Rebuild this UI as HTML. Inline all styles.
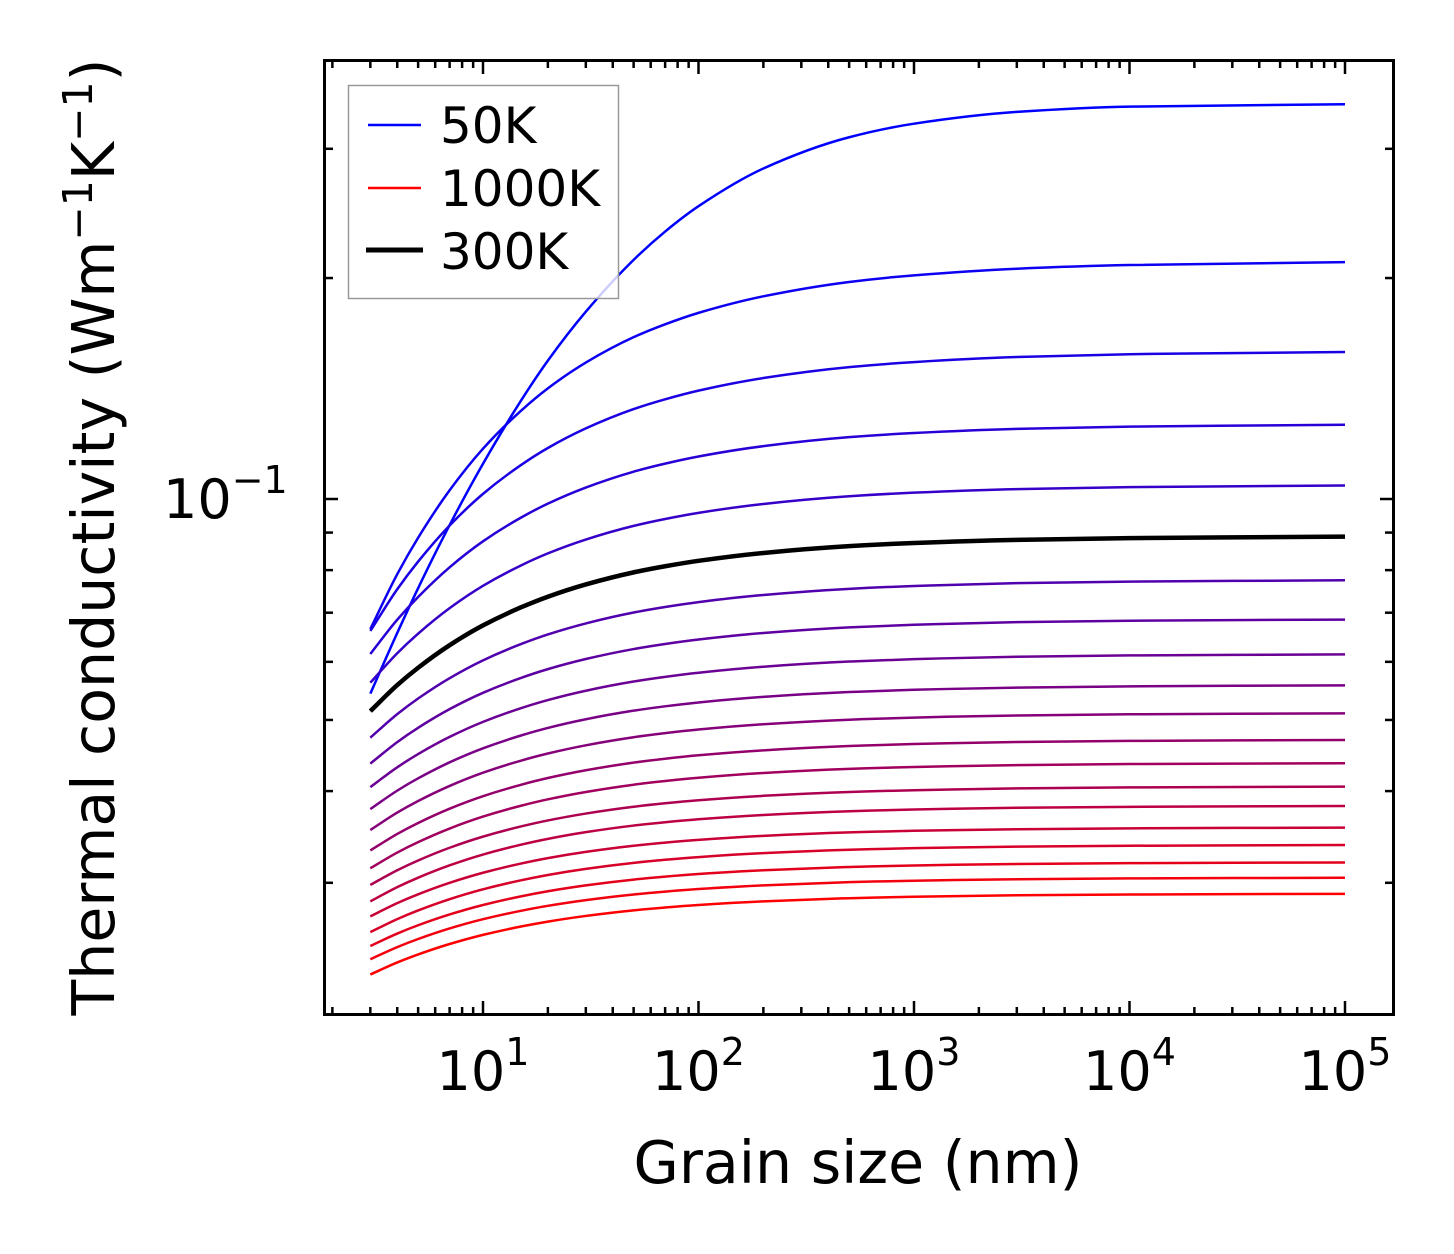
<!DOCTYPE html>
<html><head><meta charset="utf-8"><style>
html,body{margin:0;padding:0;background:#fff;}
svg{display:block;font-family:"DejaVu Sans","Liberation Sans",sans-serif;}
</style></head><body>
<svg id="chart" width="1454" height="1254" viewBox="0 0 1454 1254" xmlns="http://www.w3.org/2000/svg">
<rect x="0" y="0" width="1454" height="1254" fill="#fff"/>
<g id="curves"></g>
<g id="ticks"></g>
<rect x="324.5" y="60.5" width="1069" height="954" fill="none" stroke="#000" stroke-width="3"/>
<g>
<rect x="348.5" y="85.5" width="270" height="213" fill="rgba(255,255,255,0.8)" stroke="#999" stroke-width="1.5"/>
<line x1="368" y1="125" x2="421" y2="125" stroke="#0000ff" stroke-width="2.5"/>
<text x="440" y="143" font-size="50">50K</text>
<line x1="368" y1="188" x2="421" y2="188" stroke="#ff0000" stroke-width="2.5"/>
<text x="440" y="206" font-size="50">1000K</text>
<line x1="366" y1="250" x2="423" y2="250" stroke="#000" stroke-width="5"/>
<text x="440" y="269" font-size="50">300K</text>
</g>
<text x="858" y="1183" font-size="58.5" text-anchor="middle">Grain size (nm)</text>
<text transform="translate(114,537) rotate(-90)" font-size="58.5" text-anchor="middle">Thermal conductivity (Wm<tspan dy="-22" font-size="41">−1</tspan><tspan dy="22">K</tspan><tspan dy="-22" font-size="41">−1</tspan><tspan dy="22">)</tspan></text>
</svg>
<script>
// Data
const temperatures = [50,100,150,200,250,300,350,400,450,500,550,600,650,700,750,800,850,900,950,1000];
const kappaAt3nm = [0.0543,0.0665,0.0661,0.0615,0.0562,0.0514,0.0473,0.0436,0.0405,0.0378,0.0354,0.0332,0.0314,0.0298,0.0283,0.0270,0.0257,0.0246,0.0236,0.0225];
const kappaBulk = [0.345,0.211,0.159,0.1265,0.1045,0.0890,0.0776,0.0686,0.0615,0.0558,0.0511,0.0470,0.0437,0.0406,0.0382,0.0357,0.0338,0.0320,0.0305,0.0290];
const grainSizes = [3,4,5,7,10,15,20,30,50,70,100,200,500,1000,3000,10000,100000];
const riseFraction = [0,0.149,0.248,0.377,0.49,0.593,0.654,0.724,0.793,0.828,0.859,0.904,0.943,0.961,0.979,0.989,0.997];
const riseFraction50K = [0,0.103,0.179,0.286,0.39,0.497,0.565,0.648,0.736,0.784,0.827,0.891,0.944,0.967,0.987,0.996,1];
const xTickLabels = ["1","2","3","4","5"];
const yMinorTicks = [0.03,0.04,0.05,0.06,0.07,0.08,0.09,0.2,0.3];
const highlightTemp = 300;

// Axes
const X0=483, XD=215.5, Y0=499, YD=734;
const xS = v => X0 + XD*(Math.log10(v)-1);
const yS = v => Y0 - YD*(Math.log10(v)+1);
const NS="http://www.w3.org/2000/svg";
const curves=document.getElementById('curves'), ticks=document.getElementById('ticks');

function monoPath(xs, ys){
  const n=xs.length, d=[], m=new Array(n);
  for(let i=0;i<n-1;i++) d.push((ys[i+1]-ys[i])/(xs[i+1]-xs[i]));
  m[0]=d[0]; m[n-1]=d[n-2];
  for(let i=1;i<n-1;i++){
    if(d[i-1]*d[i]<=0) m[i]=0;
    else { const w1=2*(xs[i+1]-xs[i])+(xs[i]-xs[i-1]), w2=(xs[i+1]-xs[i])+2*(xs[i]-xs[i-1]); m[i]=(w1+w2)/(w1/d[i-1]+w2/d[i]); }
  }
  let s=`M${xs[0].toFixed(2)},${ys[0].toFixed(2)}`;
  for(let i=0;i<n-1;i++){
    const h=xs[i+1]-xs[i];
    s+=`C${(xs[i]+h/3).toFixed(2)},${(ys[i]+m[i]*h/3).toFixed(2)} ${(xs[i+1]-h/3).toFixed(2)},${(ys[i+1]-m[i+1]*h/3).toFixed(2)} ${xs[i+1].toFixed(2)},${ys[i+1].toFixed(2)}`;
  }
  return s;
}
let hlPath=null;
temperatures.forEach((T,i)=>{
  const prof = T===50 ? riseFraction50K : riseFraction;
  const a=Math.log10(kappaAt3nm[i]), b=Math.log10(kappaBulk[i]);
  const xs=grainSizes.map(g=>xS(g));
  const ys=grainSizes.map((g,j)=>yS(Math.pow(10,a+(b-a)*prof[j])));
  const d=monoPath(xs,ys);
  const t=(T-50)/950;
  const p=document.createElementNS(NS,'path');
  p.setAttribute('d',d);
  p.setAttribute('fill','none');
  p.setAttribute('stroke',`rgb(${Math.round(255*t)},0,${Math.round(255*(1-t))})`);
  p.setAttribute('stroke-width','2.5');
  
  
  curves.appendChild(p);
  if(T===highlightTemp){
    const h=document.createElementNS(NS,'path');
    h.setAttribute('d',d);
    h.setAttribute('fill','none');
    h.setAttribute('stroke','#000');
    h.setAttribute('stroke-width','4.5');
    
    
    hlPath=h;
  }
});
if(hlPath) curves.appendChild(hlPath);

function tick(x1,y1,x2,y2,name){
  const l=document.createElementNS(NS,'line');
  l.setAttribute('x1',x1);l.setAttribute('y1',y1);l.setAttribute('x2',x2);l.setAttribute('y2',y2);
  l.setAttribute('stroke','#000');l.setAttribute('stroke-width','2.5');
  
  
  ticks.appendChild(l);
}
const B=1015, T0=60, L=324, R=1394;
for(let e=0;e<=5;e++){
  for(let m=1;m<=9;m++){
    const v=m*Math.pow(10,e); const x=xS(v);
    if(x<L+2||x>R-2) continue;
    const len = m===1?14:8;
    tick(x,B,x,B-len,'x-tick');
    tick(x,T0,x,T0+len,'x-tick-top');
  }
}
xTickLabels.forEach(ex=>{
  const x=xS(Math.pow(10,+ex));
  const t=document.createElementNS(NS,'text');
  t.setAttribute('x',x);t.setAttribute('y',1090);t.setAttribute('font-size','54');t.setAttribute('text-anchor','middle');
  t.innerHTML=`10<tspan dy="-25" font-size="38">${ex}</tspan>`;
  
  
  ticks.appendChild(t);
});
tick(L,yS(0.1),L+14,yS(0.1),'y-tick');
tick(R,yS(0.1),R-14,yS(0.1),'y-tick-right');
yMinorTicks.forEach(v=>{
  tick(L,yS(v),L+9,yS(v),'y-minor-tick');
  tick(R,yS(v),R-9,yS(v),'y-minor-tick-right');
});
const yl=document.createElementNS(NS,'text');
yl.setAttribute('x',163);yl.setAttribute('y',yS(0.1)+19);yl.setAttribute('font-size','54');
yl.innerHTML='10<tspan dy="-25" font-size="38">−1</tspan>';


ticks.appendChild(yl);
</script>
</body></html>
